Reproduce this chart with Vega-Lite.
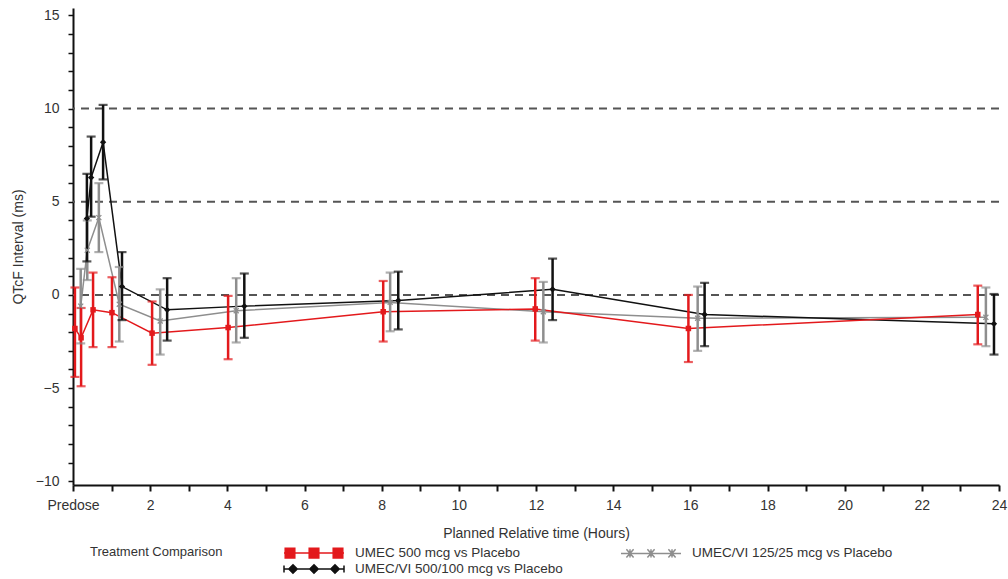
{
  "$schema": "https://vega.github.io/schema/vega-lite/v6.json",
  "width": 926,
  "height": 477,
  "autosize": {"type": "none"},
  "padding": {"left": 73, "top": 8, "right": 9, "bottom": 94},
  "config": {
    "view": {"stroke": null},
    "font": "Liberation Sans",
    "axisY": {"tickSize": 5, "tickWidth": 1.5, "tickColor": "#111111", "domainColor": "#111111", "domainWidth": 2,
      "labelFontSize": 14, "labelColor": "#333333", "labelPadding": 9, "grid": false, "labelOverlap": false,
      "titleFontSize": 14, "titleFontWeight": "normal", "titleColor": "#333333", "titlePadding": 10},
    "axisX": {"tickSize": 6, "tickWidth": 2, "tickColor": "#111111", "domainColor": "#111111", "domainWidth": 2,
      "labelFontSize": 14, "labelColor": "#333333", "labelPadding": 7, "grid": false, "labelOverlap": false, "labelFlush": false,
      "titleFontSize": 14, "titleFontWeight": "normal", "titleColor": "#333333", "titlePadding": 14}
  },
  "datasets": {
    "refs": [{"v": 0}, {"v": 5}, {"v": 10}],
    "qt": [
      {"series": "UMEC/VI 125/25 mcg vs Placebo", "x": 0.2, "mean": -0.6, "lo": -2.6, "hi": 1.4},
      {"series": "UMEC/VI 125/25 mcg vs Placebo", "x": 0.37, "mean": 2.4, "lo": 0.8, "hi": 4.0},
      {"series": "UMEC/VI 125/25 mcg vs Placebo", "x": 0.67, "mean": 4.15, "lo": 2.3, "hi": 6.0},
      {"series": "UMEC/VI 125/25 mcg vs Placebo", "x": 1.2, "mean": -0.5, "lo": -2.5, "hi": 1.5},
      {"series": "UMEC/VI 125/25 mcg vs Placebo", "x": 2.26, "mean": -1.4, "lo": -3.2, "hi": 0.3},
      {"series": "UMEC/VI 125/25 mcg vs Placebo", "x": 4.23, "mean": -0.85, "lo": -2.55, "hi": 0.9},
      {"series": "UMEC/VI 125/25 mcg vs Placebo", "x": 8.22, "mean": -0.4, "lo": -1.95, "hi": 1.2},
      {"series": "UMEC/VI 125/25 mcg vs Placebo", "x": 12.19, "mean": -0.9, "lo": -2.55, "hi": 0.7},
      {"series": "UMEC/VI 125/25 mcg vs Placebo", "x": 16.19, "mean": -1.25, "lo": -3.0, "hi": 0.45},
      {"series": "UMEC/VI 125/25 mcg vs Placebo", "x": 23.66, "mean": -1.2, "lo": -2.75, "hi": 0.4},
      {"series": "UMEC/VI 500/100 mcg vs Placebo", "x": 0.36, "mean": 4.1, "lo": 1.8, "hi": 6.5},
      {"series": "UMEC/VI 500/100 mcg vs Placebo", "x": 0.47, "mean": 6.3, "lo": 4.2, "hi": 8.5},
      {"series": "UMEC/VI 500/100 mcg vs Placebo", "x": 0.78, "mean": 8.2, "lo": 6.2, "hi": 10.2},
      {"series": "UMEC/VI 500/100 mcg vs Placebo", "x": 1.27, "mean": 0.45, "lo": -1.35, "hi": 2.3},
      {"series": "UMEC/VI 500/100 mcg vs Placebo", "x": 2.44, "mean": -0.8, "lo": -2.45, "hi": 0.9},
      {"series": "UMEC/VI 500/100 mcg vs Placebo", "x": 4.44, "mean": -0.6, "lo": -2.3, "hi": 1.15},
      {"series": "UMEC/VI 500/100 mcg vs Placebo", "x": 8.43, "mean": -0.3, "lo": -1.85, "hi": 1.25},
      {"series": "UMEC/VI 500/100 mcg vs Placebo", "x": 12.43, "mean": 0.3, "lo": -1.35, "hi": 1.95},
      {"series": "UMEC/VI 500/100 mcg vs Placebo", "x": 16.37, "mean": -1.05, "lo": -2.75, "hi": 0.65},
      {"series": "UMEC/VI 500/100 mcg vs Placebo", "x": 23.87, "mean": -1.55, "lo": -3.2, "hi": 0.05},
      {"series": "UMEC 500 mcg vs Placebo", "x": 0.05, "mean": -1.8, "lo": -4.4, "hi": 0.4},
      {"series": "UMEC 500 mcg vs Placebo", "x": 0.21, "mean": -2.3, "lo": -4.9, "hi": -0.7},
      {"series": "UMEC 500 mcg vs Placebo", "x": 0.52, "mean": -0.8, "lo": -2.8, "hi": 1.2},
      {"series": "UMEC 500 mcg vs Placebo", "x": 1.01, "mean": -0.95, "lo": -2.8, "hi": 0.95},
      {"series": "UMEC 500 mcg vs Placebo", "x": 2.05, "mean": -2.05, "lo": -3.75, "hi": -0.35},
      {"series": "UMEC 500 mcg vs Placebo", "x": 4.02, "mean": -1.75, "lo": -3.45, "hi": -0.05},
      {"series": "UMEC 500 mcg vs Placebo", "x": 8.04, "mean": -0.9, "lo": -2.5, "hi": 0.75},
      {"series": "UMEC 500 mcg vs Placebo", "x": 11.98, "mean": -0.75, "lo": -2.45, "hi": 0.9},
      {"series": "UMEC 500 mcg vs Placebo", "x": 15.95, "mean": -1.8, "lo": -3.6, "hi": 0.0},
      {"series": "UMEC 500 mcg vs Placebo", "x": 23.45, "mean": -1.05, "lo": -2.65, "hi": 0.5}
    ]
  },
  "layer": [
    {
      "data": {"name": "refs"},
      "mark": {"type": "rule", "strokeDash": [8, 6], "strokeWidth": 2, "color": "#555555"},
      "encoding": {
        "y": {"field": "v", "type": "quantitative", "title": "QTcF Interval (ms)",
          "scale": {"domain": [-10.2, 15.4], "nice": false, "zero": false},
          "axis": {"values": [-10,-9,-8,-7,-6,-5,-4,-3,-2,-1,0,1,2,3,4,5,6,7,8,9,10,11,12,13,14,15],
            "labelExpr": "datum.value % 5 == 0 ? datum.label : ''"}}
      }
    },
    {
      "data": {"name": "qt"},
      "mark": {"type": "line", "strokeWidth": 1.5},
      "encoding": {
        "x": {"field": "x", "type": "quantitative", "title": "Planned Relative time (Hours)",
          "scale": {"domain": [0, 24], "nice": false, "zero": false},
          "axis": {"values": [0,1,2,3,4,5,6,7,8,9,10,11,12,13,14,15,16,17,18,19,20,21,22,23,24],
            "labelExpr": "datum.value == 0 ? 'Predose' : (datum.value % 2 == 0 ? datum.label : '')"}},
        "y": {"field": "mean", "type": "quantitative", "title": "QTcF Interval (ms)",
          "axis": {"values": [-10,-9,-8,-7,-6,-5,-4,-3,-2,-1,0,1,2,3,4,5,6,7,8,9,10,11,12,13,14,15],
            "labelExpr": "datum.value % 5 == 0 ? datum.label : ''"}},
        "color": {"field": "series", "type": "nominal", "legend": null,
          "scale": {"range": ["#e3191c", "#8e8e8e", "#111111"]}}
      }
    },
    {
      "data": {"name": "qt"},
      "mark": {"type": "rule", "strokeWidth": 2.5},
      "encoding": {
        "x": {"field": "x", "type": "quantitative", "title": "Planned Relative time (Hours)",
          "axis": {"values": [0,1,2,3,4,5,6,7,8,9,10,11,12,13,14,15,16,17,18,19,20,21,22,23,24],
            "labelExpr": "datum.value == 0 ? 'Predose' : (datum.value % 2 == 0 ? datum.label : '')"}},
        "y": {"field": "lo", "type": "quantitative", "title": "QTcF Interval (ms)",
          "axis": {"values": [-10,-9,-8,-7,-6,-5,-4,-3,-2,-1,0,1,2,3,4,5,6,7,8,9,10,11,12,13,14,15],
            "labelExpr": "datum.value % 5 == 0 ? datum.label : ''"}},
        "y2": {"field": "hi"},
        "color": {"field": "series", "type": "nominal", "legend": null}
      }
    },
    {
      "data": {"name": "qt"},
      "mark": {"type": "tick", "orient": "horizontal", "size": 9, "thickness": 2.2},
      "encoding": {
        "x": {"field": "x", "type": "quantitative", "title": "Planned Relative time (Hours)",
          "axis": {"values": [0,1,2,3,4,5,6,7,8,9,10,11,12,13,14,15,16,17,18,19,20,21,22,23,24],
            "labelExpr": "datum.value == 0 ? 'Predose' : (datum.value % 2 == 0 ? datum.label : '')"}},
        "y": {"field": "lo", "type": "quantitative", "title": "QTcF Interval (ms)",
          "axis": {"values": [-10,-9,-8,-7,-6,-5,-4,-3,-2,-1,0,1,2,3,4,5,6,7,8,9,10,11,12,13,14,15],
            "labelExpr": "datum.value % 5 == 0 ? datum.label : ''"}},
        "color": {"field": "series", "type": "nominal", "legend": null}
      }
    },
    {
      "data": {"name": "qt"},
      "mark": {"type": "tick", "orient": "horizontal", "size": 9, "thickness": 2.2},
      "encoding": {
        "x": {"field": "x", "type": "quantitative", "title": "Planned Relative time (Hours)",
          "axis": {"values": [0,1,2,3,4,5,6,7,8,9,10,11,12,13,14,15,16,17,18,19,20,21,22,23,24],
            "labelExpr": "datum.value == 0 ? 'Predose' : (datum.value % 2 == 0 ? datum.label : '')"}},
        "y": {"field": "hi", "type": "quantitative", "title": "QTcF Interval (ms)",
          "axis": {"values": [-10,-9,-8,-7,-6,-5,-4,-3,-2,-1,0,1,2,3,4,5,6,7,8,9,10,11,12,13,14,15],
            "labelExpr": "datum.value % 5 == 0 ? datum.label : ''"}},
        "color": {"field": "series", "type": "nominal", "legend": null}
      }
    },
    {
      "data": {"name": "qt"},
      "transform": [{"filter": "datum.series == 'UMEC/VI 125/25 mcg vs Placebo'"}],
      "mark": {"type": "point", "filled": true, "size": 35, "opacity": 1, "color": "#8e8e8e",
        "shape": "M-1,-0.7L-0.7,-1L0,-0.3L0.7,-1L1,-0.7L0.3,0L1,0.7L0.7,1L0,0.3L-0.7,1L-1,0.7L-0.3,0Z"},
      "encoding": {
        "x": {"field": "x", "type": "quantitative", "title": "Planned Relative time (Hours)",
          "axis": {"values": [0,1,2,3,4,5,6,7,8,9,10,11,12,13,14,15,16,17,18,19,20,21,22,23,24],
            "labelExpr": "datum.value == 0 ? 'Predose' : (datum.value % 2 == 0 ? datum.label : '')"}},
        "y": {"field": "mean", "type": "quantitative", "title": "QTcF Interval (ms)",
          "axis": {"values": [-10,-9,-8,-7,-6,-5,-4,-3,-2,-1,0,1,2,3,4,5,6,7,8,9,10,11,12,13,14,15],
            "labelExpr": "datum.value % 5 == 0 ? datum.label : ''"}}
      }
    },
    {
      "data": {"name": "qt"},
      "transform": [{"filter": "datum.series == 'UMEC/VI 500/100 mcg vs Placebo'"}],
      "mark": {"type": "point", "filled": true, "size": 40, "opacity": 1, "color": "#111111", "shape": "diamond"},
      "encoding": {
        "x": {"field": "x", "type": "quantitative", "title": "Planned Relative time (Hours)",
          "axis": {"values": [0,1,2,3,4,5,6,7,8,9,10,11,12,13,14,15,16,17,18,19,20,21,22,23,24],
            "labelExpr": "datum.value == 0 ? 'Predose' : (datum.value % 2 == 0 ? datum.label : '')"}},
        "y": {"field": "mean", "type": "quantitative", "title": "QTcF Interval (ms)",
          "axis": {"values": [-10,-9,-8,-7,-6,-5,-4,-3,-2,-1,0,1,2,3,4,5,6,7,8,9,10,11,12,13,14,15],
            "labelExpr": "datum.value % 5 == 0 ? datum.label : ''"}}
      }
    },
    {
      "data": {"name": "qt"},
      "transform": [{"filter": "datum.series == 'UMEC 500 mcg vs Placebo'"}],
      "mark": {"type": "point", "filled": true, "size": 30, "opacity": 1, "color": "#e3191c", "shape": "square"},
      "encoding": {
        "x": {"field": "x", "type": "quantitative", "title": "Planned Relative time (Hours)",
          "axis": {"values": [0,1,2,3,4,5,6,7,8,9,10,11,12,13,14,15,16,17,18,19,20,21,22,23,24],
            "labelExpr": "datum.value == 0 ? 'Predose' : (datum.value % 2 == 0 ? datum.label : '')"}},
        "y": {"field": "mean", "type": "quantitative", "title": "QTcF Interval (ms)",
          "axis": {"values": [-10,-9,-8,-7,-6,-5,-4,-3,-2,-1,0,1,2,3,4,5,6,7,8,9,10,11,12,13,14,15],
            "labelExpr": "datum.value % 5 == 0 ? datum.label : ''"}}
      }
    },
    {
      "data": {"name": "qt"},
      "mark": {"type": "point", "filled": true, "size": 144, "strokeWidth": 1.5, "fillOpacity": 0, "strokeOpacity": 0},
      "encoding": {
        "x": {"field": "x", "type": "quantitative", "title": "Planned Relative time (Hours)",
          "axis": {"values": [0,1,2,3,4,5,6,7,8,9,10,11,12,13,14,15,16,17,18,19,20,21,22,23,24],
            "labelExpr": "datum.value == 0 ? 'Predose' : (datum.value % 2 == 0 ? datum.label : '')"}},
        "y": {"field": "mean", "type": "quantitative", "title": "QTcF Interval (ms)",
          "axis": {"values": [-10,-9,-8,-7,-6,-5,-4,-3,-2,-1,0,1,2,3,4,5,6,7,8,9,10,11,12,13,14,15],
            "labelExpr": "datum.value % 5 == 0 ? datum.label : ''"}},
        "fill": {"field": "series", "type": "nominal", "title": "Treatment Comparison",
          "scale": {"domain": ["UMEC 500 mcg vs Placebo", "UMEC/VI 500/100 mcg vs Placebo", "UMEC/VI 125/25 mcg vs Placebo"],
            "range": ["#e3191c", "#111111", "#8e8e8e"]},
          "legend": {"orient": "none", "legendX": 17, "legendY": 538,
            "titleOrient": "left", "titleAnchor": "start", "titleFontWeight": "normal", "titleFontSize": 13, "titleColor": "#333333",
            "titlePadding": 60, "columns": 2, "columnPadding": 55, "rowPadding": 0,
            "labelFontSize": 13.5, "labelColor": "#333333", "labelOffset": 58, "labelLimit": 400,
            "symbolSize": 144, "symbolStrokeWidth": 1.5,
            "encode": {"symbols": {"update": {"fillOpacity": {"value": 1}, "strokeOpacity": {"value": 1}, "opacity": {"value": 1}}}}}},
        "stroke": {"field": "series", "type": "nominal", "title": "Treatment Comparison",
          "scale": {"domain": ["UMEC 500 mcg vs Placebo", "UMEC/VI 500/100 mcg vs Placebo", "UMEC/VI 125/25 mcg vs Placebo"],
            "range": ["#e3191c", "#111111", "#8e8e8e"]},
          "legend": {"orient": "none", "legendX": 17, "legendY": 538,
            "titleOrient": "left", "titleAnchor": "start", "titleFontWeight": "normal", "titleFontSize": 13, "titleColor": "#333333",
            "titlePadding": 60, "columns": 2, "columnPadding": 55, "rowPadding": 0,
            "labelFontSize": 13.5, "labelColor": "#333333", "labelOffset": 58, "labelLimit": 400,
            "symbolSize": 144, "symbolStrokeWidth": 1.5,
            "encode": {"symbols": {"update": {"fillOpacity": {"value": 1}, "strokeOpacity": {"value": 1}, "opacity": {"value": 1}}}}}},
        "shape": {"field": "series", "type": "nominal", "title": "Treatment Comparison",
          "scale": {"domain": ["UMEC 500 mcg vs Placebo", "UMEC/VI 500/100 mcg vs Placebo", "UMEC/VI 125/25 mcg vs Placebo"],
            "range": [
              "M-1,0H9M-0.8,-0.8h1.6v1.6h-1.6zM3.2,-0.8h1.6v1.6h-1.6zM7.2,-0.8h1.6v1.6h-1.6z",
              "M-1,0H9M-1,-0.6V0.6M9,-0.6V0.6M0.5,-0.7L1.2,0L0.5,0.7L-0.2,0ZM4,-0.7L4.7,0L4,0.7L3.3,0ZM7.5,-0.7L8.2,0L7.5,0.7L6.8,0Z",
              "M-1,0H9M-0.1,-0.7L1.1,0.7M-0.1,0.7L1.1,-0.7M3.4,-0.7L4.6,0.7M3.4,0.7L4.6,-0.7M6.9,-0.7L8.1,0.7M6.9,0.7L8.1,-0.7M0.5,-0.7V0.7M4,-0.7V0.7M7.5,-0.7V0.7"
            ]},
          "legend": {"orient": "none", "legendX": 17, "legendY": 538,
            "titleOrient": "left", "titleAnchor": "start", "titleFontWeight": "normal", "titleFontSize": 13, "titleColor": "#333333",
            "titlePadding": 60, "columns": 2, "columnPadding": 55, "rowPadding": 0,
            "labelFontSize": 13.5, "labelColor": "#333333", "labelOffset": 58, "labelLimit": 400,
            "symbolSize": 144, "symbolStrokeWidth": 1.5,
            "encode": {"symbols": {"update": {"fillOpacity": {"value": 1}, "strokeOpacity": {"value": 1}, "opacity": {"value": 1}}}}}}
      }
    }
  ]
}
